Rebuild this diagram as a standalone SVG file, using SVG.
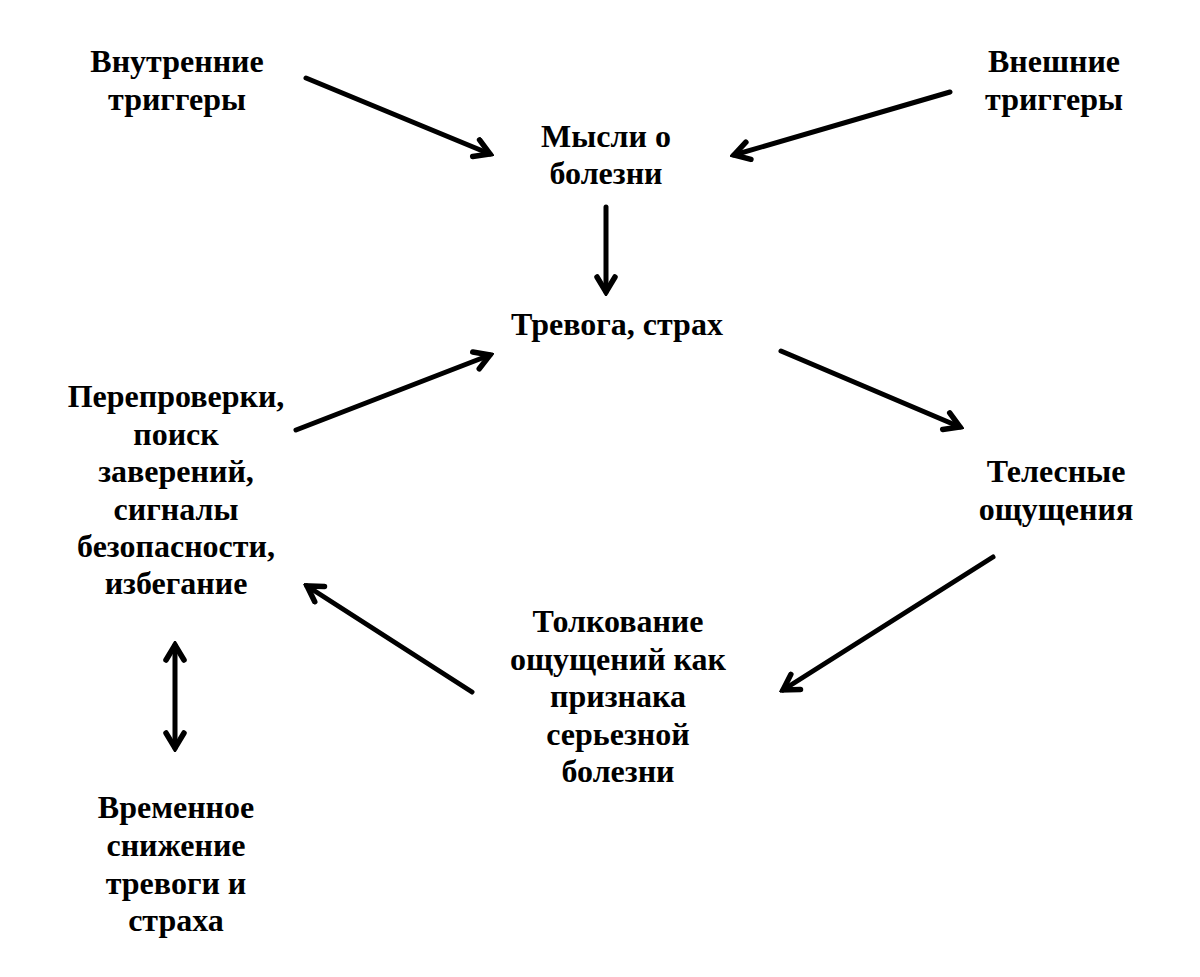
<svg xmlns="http://www.w3.org/2000/svg" width="1200" height="977" viewBox="0 0 1200 977">
<style>
text{font-family:"Liberation Serif","Times New Roman",serif;font-weight:bold;font-size:32px;fill:#000;text-anchor:middle}
.c line{stroke:#000;stroke-width:5;stroke-linecap:round}
</style>
<defs>
<marker id="ah" viewBox="0 0 24 24" refX="20" refY="12" markerWidth="24" markerHeight="24" markerUnits="userSpaceOnUse" orient="auto-start-reverse">
<path d="M5,3 L20,12 L5,21" fill="none" stroke="#000" stroke-width="5.5" stroke-linecap="round" stroke-linejoin="miter"/>
</marker>
</defs>
<rect width="1200" height="977" fill="#fff"/>
<g id="n1"><text x="177" y="72">Внутренние</text><text x="177" y="110">триггеры</text></g>
<g id="n2"><text x="1054" y="72">Внешние</text><text x="1054" y="110">триггеры</text></g>
<g id="n3"><text x="606" y="147">Мысли о</text><text x="606" y="184">болезни</text></g>
<g id="n4"><text x="617" y="335">Тревога, страх</text></g>
<g id="n5"><text x="1056" y="482">Телесные</text><text x="1056" y="520">ощущения</text></g>
<g id="n6"><text x="618" y="632">Толкование</text><text x="618" y="670">ощущений как</text><text x="618" y="707">признака</text><text x="618" y="745">серьезной</text><text x="618" y="782">болезни</text></g>
<g id="n7"><text x="176" y="407">Перепроверки,</text><text x="176" y="445">поиск</text><text x="176" y="482">заверений,</text><text x="176" y="520">сигналы</text><text x="176" y="557">безопасности,</text><text x="176" y="594">избегание</text></g>
<g id="n8"><text x="176" y="818">Временное</text><text x="176" y="856">снижение</text><text x="176" y="894">тревоги и</text><text x="176" y="931">страха</text></g>
<g class="c" id="connectors">
<line x1="306" y1="78" x2="490" y2="154" marker-end="url(#ah)"/>
<line x1="950" y1="92" x2="734" y2="155" marker-end="url(#ah)"/>
<line x1="606" y1="207" x2="606" y2="292" marker-end="url(#ah)"/>
<line x1="296" y1="430" x2="490" y2="355" marker-end="url(#ah)"/>
<line x1="781" y1="351" x2="960" y2="427" marker-end="url(#ah)"/>
<line x1="993" y1="557" x2="783" y2="690" marker-end="url(#ah)"/>
<line x1="472" y1="692" x2="307" y2="586" marker-end="url(#ah)"/>
<line x1="175" y1="645" x2="175" y2="748" marker-start="url(#ah)" marker-end="url(#ah)"/>
</g>
</svg>
